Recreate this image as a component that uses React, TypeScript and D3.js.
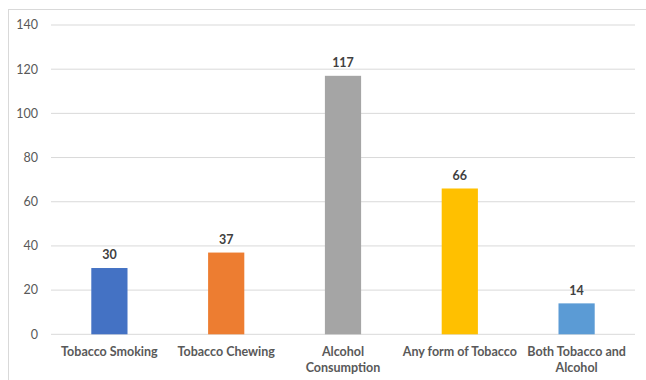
import React from "react";
import * as d3 from "d3";

const categories = [
  ["Tobacco Smoking"],
  ["Tobacco Chewing"],
  ["Alcohol", "Consumption"],
  ["Any form of Tobacco"],
  ["Both Tobacco and", "Alcohol"],
];
const values = [30, 37, 117, 66, 14];
const colors = ["#4472C4", "#ED7D31", "#A5A5A5", "#FFC000", "#5B9BD5"];
const yTicks = [0, 20, 40, 60, 80, 100, 120, 140];

export default function App() {
  const W = 646, H = 380;
  const left = 51, right = 635, top = 25, bottom = 334.3;
  const x = d3.scaleBand<number>().domain(values.map((_, i) => i)).range([left, right]).paddingInner(0.69).paddingOuter(0.345);
  const y = d3.scaleLinear().domain([0, 140]).range([bottom, top]);
  const font = "Lato, 'Open Sans', sans-serif";
  return (
    <svg width={W} height={H} style={{ position: "absolute", left: 0, top: 0 }} fontFamily={font}>
      <rect x={0} y={0} width={W} height={H} fill="#fff" />
      <rect x={8.5} y={9.5} width={W} height={H} fill="none" stroke="#D9D9D9" />
      {yTicks.map((t) => (
        <g key={t}>
          <line x1={left} x2={right} y1={y(t)} y2={y(t)} stroke="#D9D9D9" strokeWidth={1} />
          <text x={38} y={y(t)} dy="0.35em" textAnchor="end" fontSize={12.5} fill="#595959">{t}</text>
        </g>
      ))}
      {values.map((v, i) => {
        const bx = x(i)!;
        const bw = x.bandwidth();
        const cx = bx + bw / 2;
        return (
          <g key={i}>
            <rect x={bx} y={y(v)} width={bw} height={y(0) - y(v)} fill={colors[i]} />
            <text x={cx} y={y(v) - 13} dy="0.35em" textAnchor="middle" fontSize={12.5} fontWeight="bold" fill="#404040">{v}</text>
            {categories[i].map((line, j) => (
              <text key={j} x={x(i)! + bw / 2} y={352 + j * 16} dy="0.35em" textAnchor="middle" fontSize={12.5} fontWeight="bold" fill="#595959">{line}</text>
            ))}
          </g>
        );
      })}
    </svg>
  );
}
